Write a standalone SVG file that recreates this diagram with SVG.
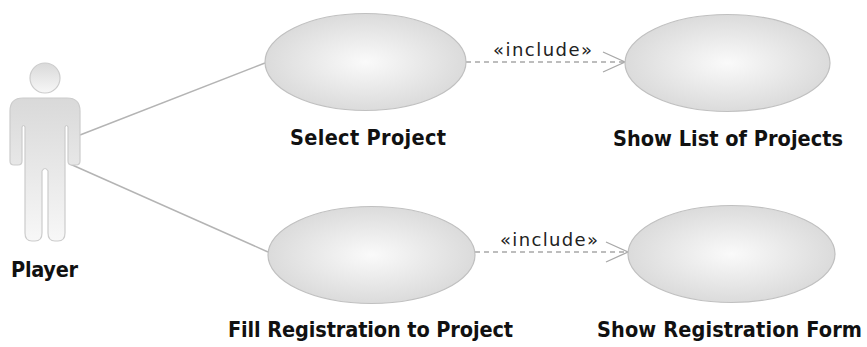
<svg xmlns="http://www.w3.org/2000/svg" width="867" height="347" viewBox="0 0 867 347">
<defs>
<radialGradient id="ug" cx="50%" cy="50%" r="50%">
<stop offset="0" stop-color="#fafafa"/>
<stop offset="1" stop-color="#dbdbdb"/>
</radialGradient>
<linearGradient id="ag" x1="0" y1="0" x2="0" y2="1">
<stop offset="0" stop-color="#d9d9d9"/>
<stop offset="1" stop-color="#f7f7f7"/>
</linearGradient>
<marker id="open" viewBox="0 0 24 22" refX="23" refY="11" markerWidth="24" markerHeight="22" markerUnits="userSpaceOnUse" orient="auto">
<path d="M1,1 L23,11 L1,21" fill="none" stroke="#a8a8a8" stroke-width="1.3"/>
</marker>
</defs>
<style>
.uc{fill:url(#ug);stroke:#c0c0c0;stroke-width:1.2}
.actor{fill:url(#ag);stroke:#cccccc;stroke-width:1.2}
.lbl{font-family:"DejaVu Sans Condensed","DejaVu Sans",sans-serif;font-weight:bold;font-size:21.5px;fill:#111;text-anchor:middle}
.st{font-family:"DejaVu Sans","Noto Sans",sans-serif;font-size:18px;fill:#222;text-anchor:middle}
.assoc{stroke:#b4b4b4;stroke-width:1.5;fill:none}
.dep{stroke:#a8a8a8;stroke-width:1.3;fill:none;stroke-dasharray:5,4}
</style>
<g id="connectors">
<line class="assoc" x1="80" y1="135" x2="265" y2="63"/>
<line class="assoc" x1="70" y1="164" x2="268" y2="252"/>
<line class="dep" x1="466" y1="62" x2="625" y2="62" marker-end="url(#open)"/>
<text class="st" x="542.5" y="56" textLength="99" lengthAdjust="spacing">«include»</text>
<line class="dep" x1="475" y1="252" x2="628" y2="252" marker-end="url(#open)"/>
<text class="st" x="549" y="246" textLength="98" lengthAdjust="spacing">«include»</text>
</g>
<g id="player">
<circle class="actor" cx="45" cy="78" r="15"/>
<path class="actor" d="M10,111 Q10,98 23,98 L67,98 Q80,98 80,111 L80,161 Q80,165 76,165 L72,165 Q68,165 68,161 L68,127 Q66.5,124 65,127 L65,233 Q65,241 58,241 L55,241 Q48,241 48,233 L48,171 Q45,166 42,171 L42,233 Q42,241 35,241 L32,241 Q25,241 25,233 L25,127 Q23.5,124 22,127 L22,161 Q22,165 18,165 L14,165 Q10,165 10,161 Z"/>
<text class="lbl" x="44.5" y="277" textLength="67">Player</text>
</g>
<g id="select-project">
<ellipse class="uc" cx="365.5" cy="62" rx="100.5" ry="48.5"/>
<text class="lbl" x="368" y="145" textLength="156">Select Project</text>
</g>
<g id="show-list">
<ellipse class="uc" cx="727.5" cy="63" rx="102.5" ry="48.5"/>
<text class="lbl" x="728" y="146" textLength="230">Show List of Projects</text>
</g>
<g id="fill-registration">
<ellipse class="uc" cx="371.5" cy="255" rx="103.5" ry="48.5"/>
<text class="lbl" x="370.5" y="337" textLength="285">Fill Registration to Project</text>
</g>
<g id="show-registration">
<ellipse class="uc" cx="731.5" cy="254" rx="103.5" ry="48.5"/>
<text class="lbl" x="729.5" y="337" textLength="265">Show Registration Form</text>
</g>
</svg>
